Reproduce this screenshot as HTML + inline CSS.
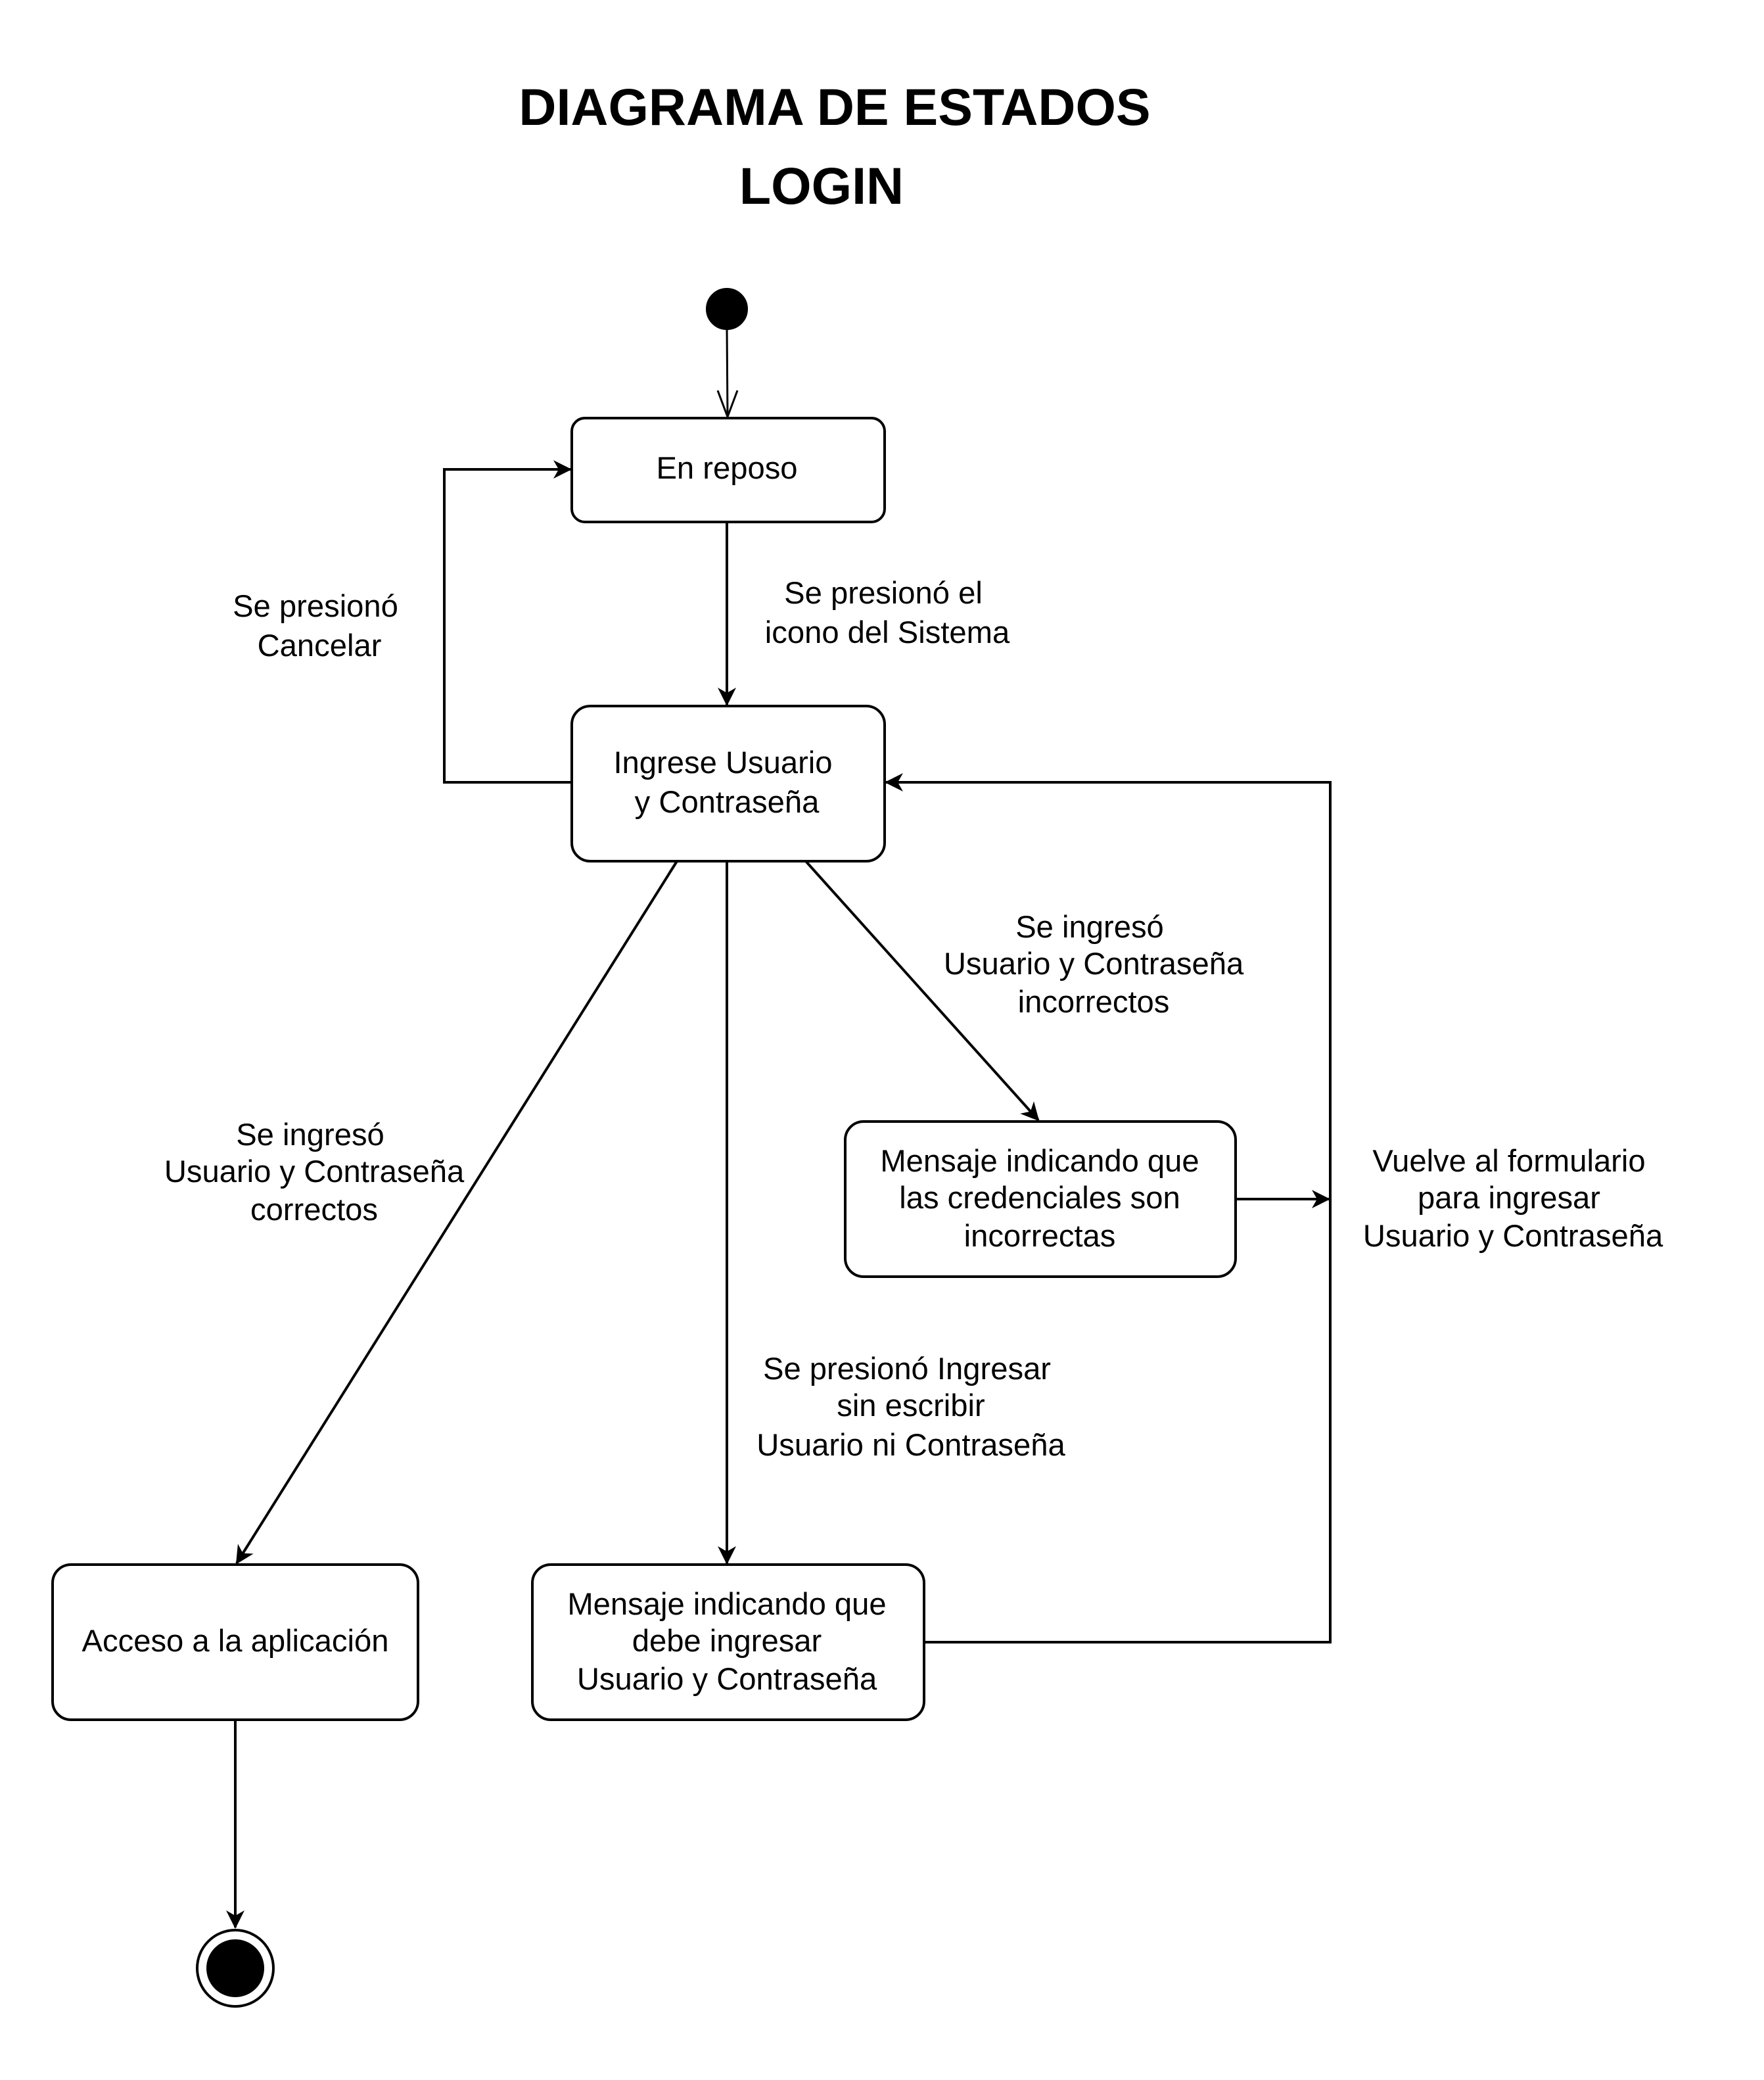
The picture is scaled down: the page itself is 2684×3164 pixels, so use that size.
<!DOCTYPE html>
<html><head><meta charset="utf-8"><style>
html,body{margin:0;padding:0;background:#fff}
svg{display:block}
text{font-family:"Liberation Sans",Arial,sans-serif;font-size:23.6px;fill:#000}
</style></head><body>
<svg width="2684" height="3164" viewBox="0 0 1342 1582" xmlns="http://www.w3.org/2000/svg">
<defs>
<marker id="a" markerWidth="16" markerHeight="16" refX="13" refY="7" orient="auto" markerUnits="userSpaceOnUse">
<path d="M0,0 L14,7 L0,14 L4,7 z" fill="#000"/></marker>
</defs>
<text x="635" y="95" text-anchor="middle" style="font-size:39.5px;font-weight:bold">DIAGRAMA DE ESTADOS</text>
<text x="625" y="155" text-anchor="middle" style="font-size:39.5px;font-weight:bold">LOGIN</text>
<g stroke="#000" stroke-width="2" fill="none">
<circle cx="553" cy="235" r="15" fill="#000"/>
<line x1="553" y1="250" x2="553.5" y2="317" stroke-width="1.5"/>
<path d="M546,297 L553.5,317 L561,297" stroke-width="1.5"/>
<rect x="435" y="318" width="238" height="79" rx="10" fill="#fff"/>
<line x1="553" y1="397" x2="553" y2="536" marker-end="url(#a)"/>
<rect x="435" y="537" width="238" height="118" rx="14" fill="#fff"/>
<polyline points="435,595 338,595 338,357 434,357" marker-end="url(#a)"/>
<line x1="515" y1="655" x2="180" y2="1189" marker-end="url(#a)"/>
<line x1="553" y1="655" x2="553" y2="1189" marker-end="url(#a)"/>
<line x1="613" y1="655" x2="790" y2="852" marker-end="url(#a)"/>
<rect x="643" y="853" width="297" height="118" rx="14" fill="#fff"/>
<line x1="940" y1="912" x2="1011" y2="912" marker-end="url(#a)"/>
<rect x="405" y="1190" width="298" height="118" rx="14" fill="#fff"/>
<polyline points="703,1249 1012,1249 1012,595 674,595" marker-end="url(#a)"/>
<rect x="40" y="1190" width="278" height="118" rx="14" fill="#fff"/>
<line x1="179" y1="1308" x2="179" y2="1466" marker-end="url(#a)"/>
<circle cx="179" cy="1497" r="29" fill="#fff"/>
<circle cx="179" cy="1497" r="21" fill="#000"/>
</g>
<g text-anchor="middle">
<text x="553" y="364">En reposo</text>
<text x="550" y="588">Ingrese Usuario</text>
<text x="553" y="618">y Contraseña</text>
<text x="791" y="891">Mensaje indicando que</text>
<text x="791" y="919">las credenciales son</text>
<text x="791" y="948">incorrectas</text>
<text x="553" y="1228">Mensaje indicando que</text>
<text x="553" y="1256">debe ingresar</text>
<text x="553" y="1285">Usuario y Contraseña</text>
<text x="179" y="1256">Acceso a la aplicación</text>
<text x="240" y="469">Se presionó</text>
<text x="243" y="499">Cancelar</text>
<text x="672" y="459">Se presionó el</text>
<text x="675" y="489">icono del Sistema</text>
<text x="829" y="713">Se ingresó</text>
<text x="832" y="741">Usuario y Contraseña</text>
<text x="832" y="770">incorrectos</text>
<text x="236" y="871">Se ingresó</text>
<text x="239" y="899">Usuario y Contraseña</text>
<text x="239" y="928">correctos</text>
<text x="1148" y="891">Vuelve al formulario</text>
<text x="1148" y="919">para ingresar</text>
<text x="1151" y="948">Usuario y Contraseña</text>
<text x="690" y="1049">Se presionó Ingresar</text>
<text x="693" y="1077">sin escribir</text>
<text x="693" y="1107">Usuario ni Contraseña</text>
</g>
</svg>
</body></html>
